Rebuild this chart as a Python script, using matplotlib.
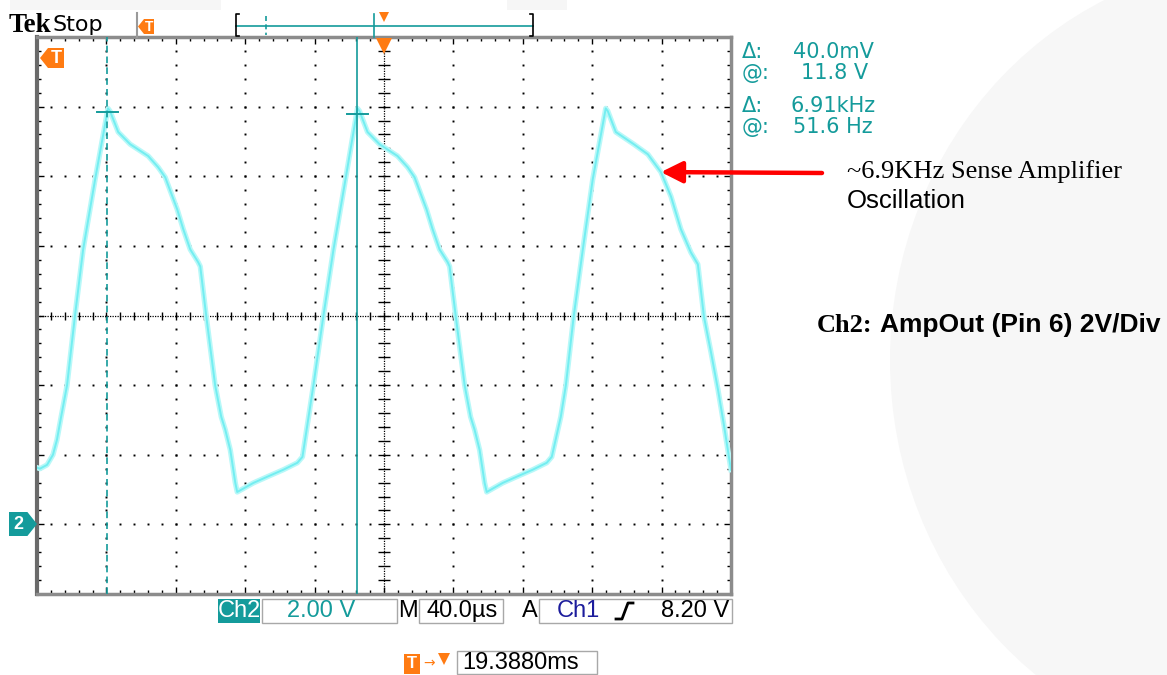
import matplotlib.pyplot as plt
from matplotlib.patches import Polygon, Rectangle, Ellipse
import numpy as np

plt.rcParams['font.family'] = ['Liberation Sans', 'DejaVu Sans']

W, H = 1167, 675

# Ch2 trace (time from left edge of screen in us, volts)
time_us = [0, 1.7, 5.8, 9.2, 11.5, 13.9, 17.3, 21.9, 26.6, 33.5, 40.9,
           42.1, 46.8, 53.7, 64.1, 69.8, 73.9, 80.8, 84.3, 88.3, 92.9, 94.1,
           97.5, 102.7, 106.2, 108.5, 111.4, 114.3, 115.4, 124.7, 132.8, 142.0,
           150.1, 153.0, 159.3, 165.1, 170.9, 177.8, 184.7,
           185.9, 190.5, 197.4, 207.8, 213.6, 217.6, 224.5, 228.0, 232.0, 236.7,
           237.8, 241.3, 246.5, 249.9, 252.2, 255.1, 258.0, 259.2, 268.4, 276.5,
           285.7, 293.8, 296.7, 301.9, 304.8, 309.4, 314.6, 320.3, 327.8,
           329.0, 333.6, 344.0, 352.1, 359.6, 365.4, 371.1, 376.9, 380.9, 384.4,
           388.4, 392.5, 395.9, 398.8, 400.0]
ch2_volts = [1.63, 1.60, 1.71, 2.00, 2.43, 3.09, 3.99, 6.00, 7.90, 9.91, 11.95,
             11.87, 11.27, 10.92, 10.58, 10.26, 9.97, 9.05, 8.48, 7.90, 7.53, 7.41,
             6.00, 3.99, 3.09, 2.72, 2.14, 1.19, 0.93, 1.19, 1.37, 1.57,
             1.77, 1.94, 3.99, 6.00, 7.90, 9.91, 11.95,
             11.87, 11.27, 10.92, 10.58, 10.26, 9.97, 9.05, 8.48, 7.90, 7.53,
             7.41, 6.00, 3.99, 3.09, 2.72, 2.14, 1.19, 0.93, 1.19, 1.37,
             1.57, 1.77, 1.94, 3.09, 3.99, 6.00, 7.90, 9.91, 11.95,
             11.87, 11.27, 10.92, 10.63, 10.12, 9.42, 8.48, 7.81, 7.47, 5.97,
             4.96, 3.87, 2.86, 1.94, 1.57]

cursor_t = [40.5, 184.7]
cursor_v = [11.84, 11.80]
readout_labels = ["\u0394:", "@:", "\u0394:", "@:"]
readout_values = ["40.0mV", "11.8 V", "6.91kHz", "51.6 Hz"]
arrow_t, arrow_v = 359.6, 10.12

time_per_div = 40.0
volts_per_div = 2.0

teal = '#149b9b'
orange = '#ff7b12'

fig = plt.figure(figsize=(W / 100, H / 100), dpi=100)

# background with pixel coords (faint watermark of the source page)
bg = fig.add_axes([0, 0, 1, 1], zorder=0)
bg.set_xlim(0, W)
bg.set_ylim(H, 0)
bg.axis('off')
bg.add_patch(Ellipse((1270, 360), 760, 800, fc='#f7f7f7', ec='none'))
bg.add_patch(Rectangle((10, 0), 211, 10, fc='#f6f6f6', ec='none'))
bg.add_patch(Rectangle((507, 0), 60, 10, fc='#f6f6f6', ec='none'))

# scope screen
ax = fig.add_axes([37 / W, 1 - 594 / H, 694 / W, 557 / H], zorder=1)
ax.set_facecolor('white')
ax.set_xlim(0, 10 * time_per_div)
ax.set_ylim(-1 * volts_per_div, 7 * volts_per_div)

maj_t = np.arange(0, 10 * time_per_div + 1, time_per_div)
maj_v = np.arange(-volts_per_div, 7 * volts_per_div + 0.01, volts_per_div)
min_t = np.arange(0, 10 * time_per_div + 0.01, time_per_div / 5)
min_v = np.arange(-volts_per_div, 7 * volts_per_div + 0.01, volts_per_div / 5)
mid_t = 5 * time_per_div
mid_v = 3 * volts_per_div

for x in maj_t[1:-1]:
    if x == mid_t:
        continue
    ax.plot(np.full_like(min_v, x), min_v, ls='none', marker='s', ms=1.4,
            mew=0, color='black')
for y in maj_v[1:-1]:
    if y == mid_v:
        continue
    ax.plot(min_t, np.full_like(min_t, y), ls='none', marker='s', ms=1.4,
            mew=0, color='black')

# center crosshair
ax.axvline(mid_t, ls=(0, (1, 1)), lw=0.9, color='black')
ax.axhline(mid_v, ls=(0, (1, 1)), lw=0.9, color='black')
ax.plot(np.full_like(min_v, mid_t), min_v, ls='none', marker='_', ms=8,
        mew=1, color='black')
ax.plot(min_t, np.full_like(min_t, mid_v), ls='none', marker='|', ms=6,
        mew=1, color='black')

ax.set_xticks(maj_t)
ax.set_yticks(maj_v)
ax.set_xticks(min_t, minor=True)
ax.set_yticks(min_v, minor=True)
ax.tick_params(which='both', direction='in', top=True, right=True,
               labelbottom=False, labelleft=False, color='black', width=1)
ax.tick_params(which='major', length=5)
ax.tick_params(which='minor', length=3)
for s in ax.spines.values():
    s.set_color('#8c8c8c')
    s.set_linewidth(2.5)
ax.spines['left'].set_color('#6a6a6a')
ax.spines['left'].set_linewidth(3)

# trace
ax.plot(time_us, ch2_volts, color='#b8f8f8', lw=3.8, solid_joinstyle='round',
        zorder=3)
ax.plot(time_us, ch2_volts, color='#74eef1', lw=1.4, solid_joinstyle='round',
        zorder=4)

# cursors
ax.axvline(cursor_t[0], color=teal, lw=1.2, ls=(0, (4, 2.5)), zorder=5)
ax.axvline(cursor_t[1], color=teal, lw=1.2, zorder=5)
for t, v in zip(cursor_t, cursor_v):
    ax.plot([t - 6, t + 6], [v, v], color=teal, lw=1.4, zorder=5)

# trigger position marker
ax.plot(mid_t, 13.75, marker='v', ms=11, color=orange, mew=0, clip_on=False,
        zorder=6)

# red arrow to the oscillation
ax.annotate('', xy=(arrow_t, arrow_v), xycoords='data',
            xytext=(822, H - 173), textcoords='figure pixels',
            arrowprops=dict(arrowstyle='-|>,head_length=1.0,head_width=0.5',
                            color='#ff0000', lw=3.2, mutation_scale=13,
                            shrinkA=0, shrinkB=0),
            annotation_clip=False, zorder=7)

# overlay in pixel coords
ov = fig.add_axes([0, 0, 1, 1], zorder=3)
ov.set_xlim(0, W)
ov.set_ylim(H, 0)
ov.axis('off')
ov.patch.set_alpha(0)


def tag(x0, x1, y0, y1, point, color, label, fs=11):
    n = (y1 - y0) * 0.4
    ym = (y0 + y1) / 2
    if point == 'left':
        pts = [(x0, ym), (x0 + n, y0), (x1, y0), (x1, y1), (x0 + n, y1)]
        cx = (x0 + n + x1) / 2
    else:
        pts = [(x1, ym), (x1 - n, y0), (x0, y0), (x0, y1), (x1 - n, y1)]
        cx = (x0 + x1 - n) / 2
    ov.add_patch(Polygon(pts, closed=True, fc=color, ec='none'))
    ov.text(cx, ym + 0.5, label, color='white', fontsize=fs, fontweight='bold',
            ha='center', va='center')


# header
ov.text(9, 32, "Tek", fontsize=19.5, fontweight='bold', family='Liberation Serif',
        va='baseline', ha='left')
ov.text(53, 31, "Stop", fontsize=16, family='DejaVu Sans', va='baseline', ha='left')
ov.plot([137, 137], [13, 37], color='#9a9a9a', lw=1.5)
tag(138, 154, 19, 34, 'left', orange, "T", fs=10)
ov.plot([236, 533], [26, 26], color=teal, lw=1.2)
ov.plot([239, 236, 236, 239], [14, 14, 36, 36], color='black', lw=1.2)
ov.plot([530, 533, 533, 530], [14, 14, 36, 36], color='black', lw=1.2)
ov.plot([266, 266], [16, 35], color=teal, lw=1.2, ls=(0, (3, 2)))
ov.plot([374, 374], [14, 37], color=teal, lw=1.2)
ov.plot([384], [17], marker='v', ms=7, color=orange, mew=0)

tag(40, 64, 48, 68, 'left', orange, "T", fs=13)
tag(9, 37, 512, 536, 'right', teal, "2", fs=13)

# cursor readouts
read_y = [52, 73, 106, 127]
read_x = [793, 801, 790, 793]
for lab, val, y, x in zip(readout_labels, readout_values, read_y, read_x):
    ov.text(742, y, lab, color=teal, fontsize=15, family='DejaVu Sans',
            ha='left', va='center')
    ov.text(x, y, val, color=teal, fontsize=15, family='DejaVu Sans',
            ha='left', va='center')

# bottom status bar
ov.add_patch(Rectangle((218, 599), 42, 24, fc=teal, ec='none'))
ov.text(239, 611, "Ch2", color='white', fontsize=17, ha='center', va='center')
ov.add_patch(Rectangle((262, 599), 135, 24, fc='white', ec='#a8a8a8', lw=1))
ov.text(321, 611, "2.00 V", color=teal, fontsize=17, ha='center', va='center')
ov.text(408, 611, "M", color='black', fontsize=17, ha='center', va='center')
ov.add_patch(Rectangle((419, 599), 84, 24, fc='white', ec='#a8a8a8', lw=1))
ov.text(462, 611, "40.0\u00b5s", color='black', fontsize=17, ha='center',
        va='center')
ov.text(530, 611, "A", color='black', fontsize=17, ha='center', va='center')
ov.add_patch(Rectangle((539, 599), 193, 24, fc='white', ec='#a8a8a8', lw=1))
ov.text(578, 611, "Ch1", color='#1c1c9c', fontsize=17, ha='center', va='center')
ov.plot([616, 622, 628, 633], [619, 619, 603, 603], color='black', lw=2)
ov.text(729, 611, "8.20 V", color='black', fontsize=17, ha='right', va='center')

ov.add_patch(Rectangle((404, 654), 16, 20, fc=orange, ec='none'))
ov.text(412, 664, "T", color='white', fontsize=12, fontweight='bold',
        ha='center', va='center')
ov.text(429, 663, "\u2192", color=orange, fontsize=10, family='DejaVu Sans',
        ha='center', va='center')
ov.plot([444], [659], marker='v', ms=9, color=orange, mew=0)
ov.add_patch(Rectangle((457, 651), 140, 23, fc='white', ec='#a8a8a8', lw=1))
ov.text(462, 663, "19.3880ms", color='black', fontsize=17, ha='left', va='center')

# annotations
ov.text(847, 172, "~6.9KHz Sense Amplifier", fontsize=19, family='Liberation Serif',
        ha='left', va='center')
ov.text(847, 201, "Oscillation", fontsize=18.5, ha='left', va='center')
ov.text(817, 325, "Ch2:", fontsize=19, fontweight='bold', family='Liberation Serif',
        ha='left', va='center')
ov.text(880, 325, "AmpOut (Pin 6) 2V/Div", fontsize=19, fontweight='bold',
        ha='left', va='center')

fig.savefig('out.png', dpi=100)
